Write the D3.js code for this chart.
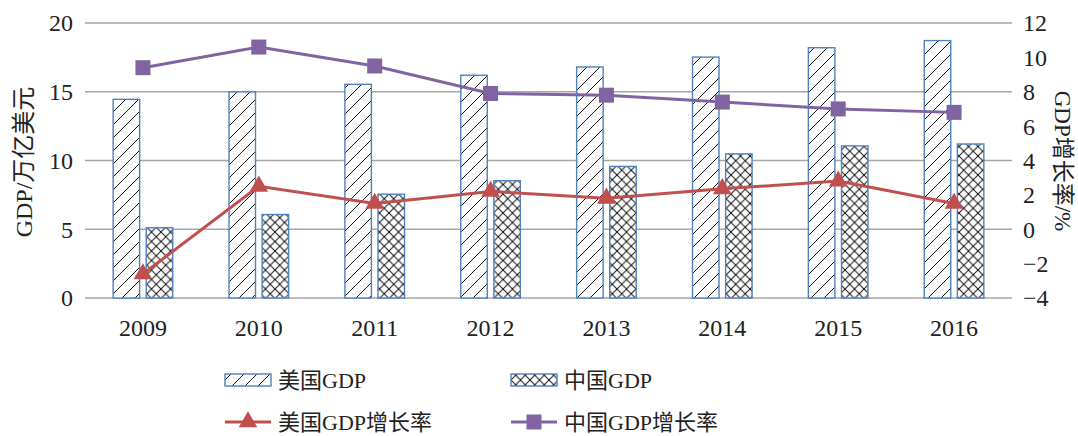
<!DOCTYPE html>
<html>
<head>
<meta charset="utf-8">
<script src="https://cdn.jsdelivr.net/npm/d3@7/dist/d3.min.js"></script>
<style>
  body { margin: 0; background: #fff; }
  text { font-family: "Liberation Serif", "Noto Sans CJK SC", serif; fill: #222; }
</style>
</head>
<body>
<div id="chart"></div>
<script>
// data
const years = ['2009', '2010', '2011', '2012', '2013', '2014', '2015', '2016']
const usGdp = [14.45, 14.99, 15.54, 16.2, 16.8, 17.52, 18.2, 18.72]
const cnGdp = [5.11, 6.07, 7.55, 8.53, 9.57, 10.48, 11.06, 11.2]
const usGrowth = [-2.6, 2.5, 1.5, 2.2, 1.8, 2.35, 2.8, 1.5]
const cnGrowth = [9.4, 10.6, 9.5, 7.9, 7.8, 7.4, 7.0, 6.8]
const leftTicks = [0, 5, 10, 15, 20]
const rightTicks = [-4, -2, 0, 2, 4, 6, 8, 10, 12]

const width = 1078, height = 436
const margin = { left: 85, right: 66, top: 23, bottom: 138 }
const plotW = width - margin.left - margin.right
const plotH = height - margin.top - margin.bottom

const barStroke = '#4f81bd'
const red = '#c0504d'
const purple = '#8064a2'

const svg = d3.select('#chart').append('svg')
  .attr('width', width)
  .attr('height', height)

// hatch patterns
const defs = svg.append('defs')
const diag = defs.append('pattern')
  .attr('id', 'diag')
  .attr('patternUnits', 'userSpaceOnUse')
  .attr('width', 13).attr('height', 13)
diag.append('rect').attr('width', 13).attr('height', 13).attr('fill', '#fff')
diag.append('path')
  .attr('d', 'M0,13 L13,0 M-3,3 L3,-3 M10,16 L16,10')
  .attr('stroke', '#111').attr('stroke-width', 1)

const cross = defs.append('pattern')
  .attr('id', 'cross')
  .attr('patternUnits', 'userSpaceOnUse')
  .attr('width', 9.5).attr('height', 9.5)
cross.append('rect').attr('width', 9.5).attr('height', 9.5).attr('fill', '#fff')
cross.append('path')
  .attr('d', 'M0,9.5 L9.5,0 M0,0 L9.5,9.5')
  .attr('stroke', '#111').attr('stroke-width', 1)

const g = svg.append('g').attr('transform', `translate(${margin.left},${margin.top})`)

const x = d3.scaleBand().domain(years).range([0, plotW])
const yL = d3.scaleLinear().domain([0, 20]).range([plotH, 0])
const yR = d3.scaleLinear().domain([-4, 12]).range([plotH, 0])

const barW = 26.5, gap = 6.6

// gridlines
g.selectAll('.grid')
  .data(leftTicks)
  .enter()
  .append('line')
  .attr('x1', 0).attr('x2', plotW)
  .attr('y1', d => yL(d)).attr('y2', d => yL(d))
  .attr('stroke', '#a6a6a6').attr('stroke-width', 1.3)

// bars
g.selectAll('.us')
  .data(usGdp)
  .enter()
  .append('rect')
  .attr('x', (d, i) => x(years[i]) + x.bandwidth() / 2 - gap / 2 - barW)
  .attr('y', d => yL(d))
  .attr('width', barW)
  .attr('height', d => plotH - yL(d))
  .attr('fill', 'url(#diag)')
  .attr('stroke', barStroke).attr('stroke-width', 1.4)

g.selectAll('.cn')
  .data(cnGdp)
  .enter()
  .append('rect')
  .attr('x', (d, i) => x(years[i]) + x.bandwidth() / 2 + gap / 2)
  .attr('y', d => yL(d))
  .attr('width', barW)
  .attr('height', d => plotH - yL(d))
  .attr('fill', 'url(#cross)')
  .attr('stroke', barStroke).attr('stroke-width', 1.4)

// lines
const cx = (d, i) => x(years[i]) + x.bandwidth() / 2
const line = d3.line().x(cx).y(d => yR(d))

g.append('path').datum(cnGrowth)
  .attr('d', line).attr('fill', 'none')
  .attr('stroke', purple).attr('stroke-width', 3)
g.selectAll('.sq')
  .data(cnGrowth)
  .enter()
  .append('rect')
  .attr('x', (d, i) => cx(d, i) - 7.5)
  .attr('y', d => yR(d) - 7.5)
  .attr('width', 15).attr('height', 15)
  .attr('fill', purple)

g.append('path').datum(usGrowth)
  .attr('d', line).attr('fill', 'none')
  .attr('stroke', red).attr('stroke-width', 3)
const tri = d3.symbol().type(d3.symbolTriangle).size(150)
g.selectAll('.tri')
  .data(usGrowth)
  .enter()
  .append('path')
  .attr('d', tri)
  .attr('transform', (d, i) => `translate(${cx(d, i)},${yR(d)})`)
  .attr('fill', red)

// axes text
g.selectAll('.lt')
  .data(leftTicks)
  .enter()
  .append('text')
  .attr('x', -12).attr('y', d => yL(d))
  .attr('dy', '0.35em')
  .attr('text-anchor', 'end')
  .style('font-size', '24px')
  .text(d => d)

g.selectAll('.rt')
  .data(rightTicks)
  .enter()
  .append('text')
  .attr('x', plotW + 11).attr('y', d => yR(d))
  .attr('dy', '0.35em')
  .attr('text-anchor', 'start')
  .style('font-size', '24px')
  .text(d => d < 0 ? '\u2212' + Math.abs(d) : d)

g.selectAll('.xt')
  .data(years)
  .enter()
  .append('text')
  .attr('x', d => x(d) + x.bandwidth() / 2)
  .attr('y', plotH + 38)
  .attr('text-anchor', 'middle')
  .style('font-size', '24px')
  .text(d => d)

svg.append('text')
  .attr('transform', `translate(24,${162}) rotate(-90)`)
  .attr('text-anchor', 'middle')
  .attr('dy', '0.35em')
  .style('font-size', '24px')
  .text('GDP/万亿美元')

svg.append('text')
  .attr('transform', `translate(1063,${161}) rotate(90)`)
  .attr('text-anchor', 'middle')
  .attr('dy', '0.35em')
  .style('font-size', '23px')
  .text('GDP增长率/%')

// legend
const legendItems = [
  { label: '美国GDP', kind: 'bar', fill: 'url(#diag)', x: 225, y: 380 },
  { label: '中国GDP', kind: 'bar', fill: 'url(#cross)', x: 511, y: 380 },
  { label: '美国GDP增长率', kind: 'tri', color: red, x: 225, y: 422 },
  { label: '中国GDP增长率', kind: 'sq', color: purple, x: 511, y: 422 }
]

const leg = svg.selectAll('.leg')
  .data(legendItems)
  .enter()
  .append('g')
  .attr('transform', d => `translate(${d.x},${d.y})`)

leg.filter(d => d.kind === 'bar')
  .append('rect')
  .attr('x', 0).attr('y', -6)
  .attr('width', 46).attr('height', 12)
  .attr('fill', d => d.fill)
  .attr('stroke', barStroke).attr('stroke-width', 1.4)

leg.filter(d => d.kind !== 'bar')
  .append('line')
  .attr('x1', 0).attr('x2', 46)
  .attr('stroke', d => d.color).attr('stroke-width', 3)

leg.filter(d => d.kind === 'tri')
  .append('path')
  .attr('d', tri)
  .attr('transform', 'translate(23,0)')
  .attr('fill', red)

leg.filter(d => d.kind === 'sq')
  .append('rect')
  .attr('x', 15.5).attr('y', -7.5)
  .attr('width', 15).attr('height', 15)
  .attr('fill', purple)

leg.append('text')
  .attr('x', 53).attr('y', 0)
  .attr('dy', '0.35em')
  .style('font-size', '22px')
  .text(d => d.label)
</script>
</body>
</html>
